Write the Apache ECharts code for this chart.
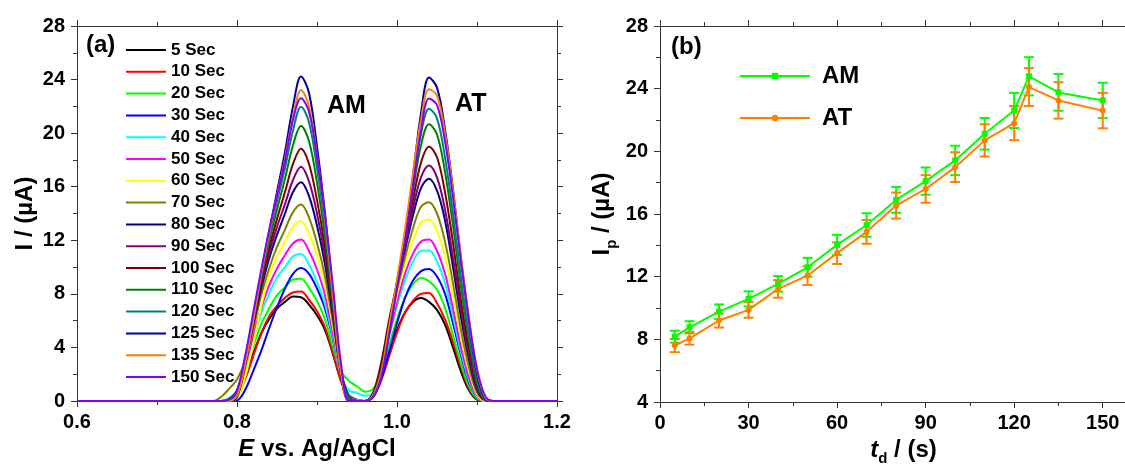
<!DOCTYPE html>
<html>
<head>
<meta charset="utf-8">
<script src="https://cdn.jsdelivr.net/npm/echarts@6.0.0/dist/echarts.min.js"></script>
<style>
  html, body { margin: 0; padding: 0; background: #fff; }
  #chart { width: 1125px; height: 464px; }
</style>
</head>
<body>
<div id="chart"></div>
<script>
// (a) potential axis, V vs Ag/AgCl
var potential = [0.60, 0.77, 0.78, 0.79, 0.80, 0.81, 0.82, 0.83, 0.84, 0.85, 0.86, 0.87, 0.88, 0.89, 0.90, 0.91, 0.92, 0.93, 0.94, 0.95, 0.96,
  0.97, 0.98, 0.99, 1.00, 1.01, 1.02, 1.03, 1.04, 1.05, 1.06, 1.07, 1.08, 1.09, 1.10, 1.11, 1.12, 1.13, 1.20];

// current (uA) per deposition time
var cur5   = [0, 0,0,0.1,0.6,2.0,3.5,5.0,6.1,6.9,7.4,7.8,7.75,7.2,6.4,5.3,3.5,1.5,0.3,0.05,0, 0.4,1.8,3.6,5.3,6.6,7.4,7.69,7.4,6.8,5.7,4.0,2.2,0.8,0.1,0,0,0, 0];
var cur10  = [0, 0,0,0,0.3,1.6,3.3,5.0,6.3,7.1,7.7,8.1,8.18,7.56,6.7,5.5,3.6,1.5,0.3,0.05,0, 0.3,1.5,3.3,5.1,6.6,7.5,8.0,8.06,7.3,6.1,4.4,2.5,0.95,0.15,0,0,0, 0];
var cur20  = [0, 0,0,0.1,0.66,2.2,4.0,5.7,6.9,7.9,8.5,9.07,9.13,8.45,7.47,6.1,4.0,2.2,1.5,1.1,0.7, 0.9,2.0,4.1,6.1,7.7,8.7,9.18,8.95,8.3,6.95,4.9,2.8,1.1,0.2,0,0,0, 0];
var cur30  = [0, 0,0,0,0.05,0.8,2.2,3.7,5.4,7.0,8.4,9.5,9.93,9.5,8.4,6.9,4.6,1.9,0.4,0.1,0, 0.3,1.6,3.6,5.8,7.7,9.0,9.7,9.86,9.3,8.0,5.8,3.4,1.4,0.3,0,0,0, 0];
var cur40  = [0, 0,0,0.1,0.7,2.5,4.5,6.5,8.0,9.2,10.0,10.8,10.98,10.2,8.9,7.25,4.7,1.9,0.8,0.6,0.4, 0.6,2.3,4.75,7.1,9.0,10.4,11.2,11.23,10.4,8.8,6.3,3.65,1.55,0.3,0,0,0, 0];
var cur50  = [0, 0,0,0.1,0.7,2.6,4.8,6.9,8.6,9.9,10.9,11.76,12.05,11.2,9.8,7.9,5.0,2.0,0.34,0.05,0, 0.5,2.4,4.9,7.4,9.5,11.0,11.9,12.05,11.2,9.5,6.9,4.0,1.75,0.4,0,0,0, 0];
var cur60  = [0, 0,0,0,0.2,1.8,4.2,7.0,9.3,10.8,11.9,13.0,13.42,12.5,10.86,8.66,5.5,2.1,0.3,0.05,0, 0.5,2.4,5.2,7.9,10.2,12.0,13.3,13.55,12.7,10.8,7.9,4.7,2.2,0.5,0,0,0, 0];
var cur70  = [0, 0,0.3,0.9,1.6,3.0,5.3,7.85,9.86,11.5,12.8,14.1,14.67,13.7,11.8,9.3,5.85,2.1,0.3,0.05,0, 0.55,2.5,5.4,8.3,10.7,12.9,14.5,14.84,14.0,11.9,8.8,5.3,2.5,0.65,0.05,0,0, 0];
var cur80  = [0, 0,0,0.1,0.7,2.9,5.6,8.3,10.6,12.4,14.0,15.6,16.34,15.3,13.1,10.2,6.3,2.2,0.3,0,0, 0.5,2.5,5.5,8.6,11.3,13.85,15.9,16.59,15.7,13.5,10.0,6.25,3.1,0.85,0.07,0,0, 0];
var cur90  = [0, 0,0,0.1,0.7,2.9,5.7,8.6,11.0,13.0,14.7,16.5,17.49,16.4,14.0,10.8,6.6,2.2,0.3,0,0, 0.5,2.4,5.6,8.75,11.6,14.4,16.7,17.59,16.7,14.3,10.7,6.8,3.4,1.0,0.1,0,0, 0];
var cur100 = [0, 0,0,0.1,0.6,2.9,5.9,8.9,11.4,13.6,15.6,17.7,18.84,17.7,15.0,11.5,7.0,2.2,0.25,0,0, 0.6,2.8,6.0,8.85,11.9,15.0,17.8,18.99,18.2,15.6,11.8,7.5,3.9,1.2,0.1,0,0, 0];
var cur110 = [0, 0,0,0.06,0.5,2.9,5.9,9.1,11.9,14.3,16.6,19.1,20.53,19.4,16.3,12.3,7.3,2.2,0.2,0,0, 0.4,2.2,5.5,8.9,12.2,15.7,19.1,20.66,19.9,17.1,13.1,8.5,4.55,1.4,0.1,0,0, 0];
var cur120 = [0, 0,0,0.2,0.8,2.8,6.0,9.25,12.2,14.9,17.4,20.2,21.98,20.8,17.4,13.0,7.6,2.1,0.1,0,0, 0.4,2.05,5.35,8.9,12.3,16.2,19.95,21.83,21.1,18.2,14.0,9.2,5.0,1.6,0.15,0,0, 0];
var cur125 = [0, 0,0,0,0.3,2.6,5.9,9.4,12.6,15.6,18.6,22.0,24.23,23.0,19.0,14.0,8.0,2.0,0,0,0, 0.3,1.7,5.0,8.6,12.3,16.8,21.5,24.15,23.4,20.3,15.8,10.6,6.0,2.0,0.2,0,0, 0];
var cur135 = [0, 0,0,0,0.4,2.7,5.9,9.4,12.5,15.3,18.1,21.2,23.23,22.0,18.3,13.6,7.85,2.1,0,0,0, 0.4,2.0,5.5,9.0,12.8,17.0,21.0,23.28,22.8,20.0,15.7,10.7,6.2,2.3,0.3,0,0, 0];
var cur150 = [0, 0,0,0.1,0.8,3.3,6.5,9.7,12.7,15.3,17.9,21.0,22.6,21.6,18.2,13.8,8.5,2.8,0,0,0, 0.3,1.7,4.9,8.4,11.9,16.0,20.2,22.58,22.1,19.4,15.2,10.4,6.0,2.4,0.4,0,0, 0];

var sweepNames = ['5 Sec', '10 Sec', '20 Sec', '30 Sec', '40 Sec', '50 Sec', '60 Sec', '70 Sec',
  '80 Sec', '90 Sec', '100 Sec', '110 Sec', '120 Sec', '125 Sec', '135 Sec', '150 Sec'];
var sweepCurves = [cur5, cur10, cur20, cur30, cur40, cur50, cur60, cur70,
  cur80, cur90, cur100, cur110, cur120, cur125, cur135, cur150];

// (b) peak current vs deposition time
var tdValues = [5, 10, 20, 30, 40, 50, 60, 70, 80, 90, 100, 110, 120, 125, 135, 150];
var amIp  = [8.17, 8.77, 9.77, 10.58, 11.54, 12.6, 14.03, 15.3, 16.9, 18.1, 19.42, 21.12, 22.61, 24.79, 23.76, 23.25];
var amErr = [0.38, 0.39, 0.46, 0.48, 0.5, 0.6, 0.64, 0.75, 0.82, 0.87, 0.94, 1.01, 1.12, 1.22, 1.17, 1.13];
var atIp  = [7.6, 8.06, 9.2, 9.88, 11.22, 12.07, 13.5, 14.86, 16.54, 17.6, 18.99, 20.7, 21.8, 24.1, 23.25, 22.6];
var atErr = [0.42, 0.4, 0.45, 0.5, 0.56, 0.6, 0.69, 0.76, 0.83, 0.88, 0.95, 1.03, 1.09, 1.21, 1.16, 1.13];

var sweepColors = ['#000000', '#ff0000', '#00ff00', '#0000ff', '#00ffff', '#ff00ff', '#ffff00', '#808000',
  '#000080', '#800080', '#800000', '#008000', '#008080', '#0000a0', '#ff8000', '#8000ff'];
var AM_COLOR = '#00ff00';
var AT_COLOR = '#ff8000';

var FONT = 'Liberation Sans';
var AXIS_COLOR = '#333';

var chart = echarts.init(document.getElementById('chart'));

var baseText = { fontSize: 24, fontWeight: 'bold', fontFamily: FONT, color: '#000' };
var richTitle = {
  n: baseText,
  i: Object.assign({}, baseText, { fontStyle: 'italic' }),
  sub: { fontSize: 15, fontWeight: 'bold', fontFamily: FONT, color: '#000', verticalAlign: 'bottom', padding: [18, 0, 0, 0] }
};

function tickLabel(extra) {
  return Object.assign({ color: '#000', fontSize: 20, fontWeight: 'bold', fontFamily: FONT }, extra || {});
}

function makeAxis(opt) {
  return Object.assign({
    type: 'value',
    axisLine: { onZero: false, lineStyle: { color: AXIS_COLOR, width: 1 } },
    axisTick: { length: 6, lineStyle: { color: AXIS_COLOR } },
    minorTick: { show: true, splitNumber: 2, length: 4, lineStyle: { color: AXIS_COLOR } },
    splitLine: { show: false }
  }, opt);
}

var leftSeries = sweepNames.map(function (name, k) {
  return {
    name: name,
    type: 'line',
    xAxisIndex: 0,
    yAxisIndex: 0,
    data: potential.map(function (e, i) { return [e, sweepCurves[k][i]]; }),
    symbol: 'none',
    smooth: 0.35,
    lineStyle: { width: 2, color: sweepColors[k] },
    itemStyle: { color: sweepColors[k] }
  };
});

function errorBars(name, mean, err, color) {
  return {
    name: name,
    type: 'custom',
    xAxisIndex: 2,
    yAxisIndex: 2,
    data: tdValues.map(function (t, i) { return [t, mean[i] - err[i], mean[i] + err[i]]; }),
    encode: { x: 0, y: [1, 2] },
    renderItem: function (params, api) {
      var hi = api.coord([api.value(0), api.value(2)]);
      var lo = api.coord([api.value(0), api.value(1)]);
      var w = 5;
      var st = { stroke: color, lineWidth: 2 };
      return {
        type: 'group',
        children: [
          { type: 'line', shape: { x1: hi[0], y1: hi[1], x2: lo[0], y2: lo[1] }, style: st },
          { type: 'line', shape: { x1: hi[0] - w, y1: hi[1], x2: hi[0] + w, y2: hi[1] }, style: st },
          { type: 'line', shape: { x1: lo[0] - w, y1: lo[1], x2: lo[0] + w, y2: lo[1] }, style: st }
        ]
      };
    }
  };
}

function ipLine(name, values, symbol, color) {
  return {
    name: name,
    type: 'line',
    xAxisIndex: 2,
    yAxisIndex: 2,
    data: tdValues.map(function (t, i) { return [t, values[i]]; }),
    symbol: symbol,
    symbolSize: 6,
    showAllSymbol: true,
    lineStyle: { width: 2, color: color },
    itemStyle: { color: color }
  };
}

var option = {
  animation: false,
  backgroundColor: '#fff',
  grid: [
    { left: 77, top: 26, width: 480, height: 375, outerBoundsMode: 'none', containLabel: false },
    { left: 660, top: 26, width: 487, height: 376, outerBoundsMode: 'none', containLabel: false }
  ],
  xAxis: [
    makeAxis({
      gridIndex: 0, position: 'bottom', min: 0.6, max: 1.2, interval: 0.2,
      axisLabel: tickLabel({ margin: 11, formatter: function (v) { return v.toFixed(1); } }),
      name: '{i|E}{n| vs. Ag/AgCl}', nameLocation: 'middle', nameGap: 32,
      nameTextStyle: { rich: richTitle }
    }),
    makeAxis({ gridIndex: 0, position: 'top', min: 0.6, max: 1.2, interval: 0.2, axisLabel: { show: false } }),
    makeAxis({
      gridIndex: 1, position: 'bottom', min: 0, max: 165, interval: 30,
      axisLabel: tickLabel({ margin: 11, showMaxLabel: false }),
      name: '{i|t}{sub|d}{n| / (s)}', nameLocation: 'middle', nameGap: 27,
      nameTextStyle: { rich: richTitle }
    }),
    makeAxis({ gridIndex: 1, position: 'top', min: 0, max: 165, interval: 30, axisLabel: { show: false } })
  ],
  yAxis: [
    makeAxis({
      gridIndex: 0, position: 'left', min: 0, max: 28, interval: 4,
      axisLabel: tickLabel({ margin: 12 }),
      name: '{n|I / (µA)}', nameLocation: 'middle', nameGap: 40,
      nameTextStyle: { rich: richTitle }
    }),
    makeAxis({ gridIndex: 0, position: 'right', min: 0, max: 28, interval: 4, axisLabel: { show: false } }),
    makeAxis({
      gridIndex: 1, position: 'left', min: 4, max: 28, interval: 4,
      axisLabel: tickLabel({ margin: 12 }),
      name: '{n|I}{sub|p}{n| / (µA)}', nameLocation: 'middle', nameGap: 41,
      nameTextStyle: { rich: richTitle }
    })
  ],
  legend: [
    {
      data: sweepNames,
      orient: 'vertical',
      left: 126,
      top: 41,
      padding: 0,
      icon: 'rect',
      itemWidth: 40,
      itemHeight: 2,
      itemGap: 3.8,
      selectedMode: false,
      textStyle: { color: '#000', fontSize: 17, fontWeight: 'bold', fontFamily: FONT, lineHeight: 18 }
    },
    {
      data: ['AM', 'AT'],
      orient: 'vertical',
      left: 739,
      top: 64,
      padding: 0,
      itemWidth: 70,
      itemHeight: 8,
      itemGap: 18,
      selectedMode: false,
      textStyle: { color: '#000', fontSize: 24, fontWeight: 'bold', fontFamily: FONT, lineHeight: 24, padding: [0, 0, 0, 7] }
    }
  ],
  graphic: [
    { type: 'text', left: 86, top: 33, style: { text: '(a)', font: 'bold 24px "Liberation Sans"', fill: '#000' } },
    { type: 'text', left: 671, top: 35, style: { text: '(b)', font: 'bold 24px "Liberation Sans"', fill: '#000' } },
    { type: 'text', left: 327, top: 94, style: { text: 'AM', font: 'bold 25px "Liberation Sans"', fill: '#000' } },
    { type: 'text', left: 455, top: 92, style: { text: 'AT', font: 'bold 25px "Liberation Sans"', fill: '#000' } }
  ],
  series: leftSeries.concat([
    errorBars('AM error', amIp, amErr, AM_COLOR),
    ipLine('AM', amIp, 'rect', AM_COLOR),
    errorBars('AT error', atIp, atErr, AT_COLOR),
    ipLine('AT', atIp, 'circle', AT_COLOR)
  ])
};

chart.setOption(option);
</script>
</body>
</html>
